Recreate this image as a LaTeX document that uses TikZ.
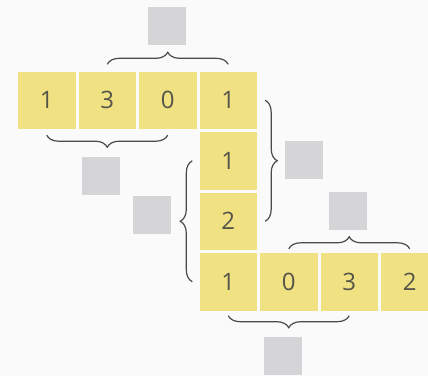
\documentclass[tikz,border=0pt]{standalone}
\usepackage{fontspec}
\setsansfont{Open Sans}
\usetikzlibrary{calc}
\usetikzlibrary{decorations.pathreplacing}
\definecolor{cellyellow}{HTML}{F0E182}
\definecolor{boxgray}{HTML}{D5D5D7}
\definecolor{digitgray}{HTML}{55554A}
\definecolor{bracegray}{HTML}{4A4A4A}
\definecolor{paper}{HTML}{FAFAFA}
\tikzset{
  cell/.style={
    rectangle, fill=cellyellow, minimum size=57.5pt,
    inner sep=0pt, text=digitgray,
    font=\sffamily\fontsize{24}{24}\selectfont
  },
  blank/.style={
    rectangle, fill=boxgray, minimum size=38pt,
    inner sep=0pt
  },
  curly/.style={
    draw=bracegray, line width=1.2pt, decorate,
    decoration={brace, amplitude=12pt}
  }
}
\begin{document}
\begin{tikzpicture}[
      x=1pt, y=-1pt
    ]
    \clip (0,0) rectangle (428,376);
    \fill[paper] (0,0) rectangle (428,376);
    \foreach \d [count=\i] in {1,3,0,1}
      \node[cell] (t\i) at ({46.75+60.5*(\i-1)},100.25) {\d};
    \node[cell] (c1) at (228.25,160.75) {1};
    \node[cell] (c2) at (228.25,221.25) {2};
    \foreach \d [count=\i] in {1,0,3,2}
      \node[cell] (b\i) at ({228.25+60.5*(\i-1)},281.75) {\d};
    \draw[curly] ([yshift=7pt]t2.north) -- ([yshift=7pt]t4.north);
    \draw[curly] ([yshift=-6pt]t3.south) -- ([yshift=-6pt]t1.south);
    \draw[curly] ([xshift=8pt]t4.east) -- ([xshift=8pt]c2.east);
    \draw[curly] ([xshift=-7pt]b1.west) -- ([xshift=-7pt]c1.west);
    \draw[curly] ([yshift=4pt]b2.north) -- ([yshift=4pt]b4.north);
    \draw[curly] ([yshift=-5pt]b3.south) -- ([yshift=-5pt]b1.south);
    \node[blank] (qtop) at (166.5,25.5) {};
    \node[blank] (qleft) at (101,176) {};
    \node[blank] (qright) at (304,159.5) {};
    \node[blank] (qmid) at (152,214.5) {};
    \node[blank] (qrow) at (348,211) {};
    \node[blank] (qbottom) at (283,356) {};
  \end{tikzpicture}
\end{document}
